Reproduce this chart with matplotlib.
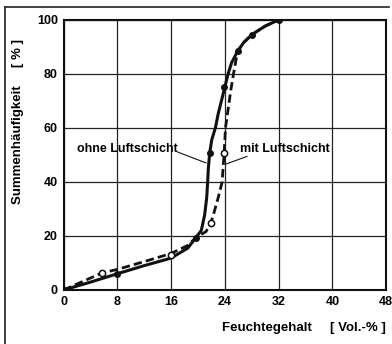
import matplotlib
matplotlib.use("Agg")
import matplotlib.pyplot as plt
from matplotlib.lines import Line2D

# Kurvenverlauf
ohne_x = [0, 4, 8, 12, 16, 18.5, 19.7, 20.5, 21.0, 21.3, 21.45, 21.55, 21.75, 22.05, 22.6, 23.0,
          23.5, 24.0, 24.5, 25.0, 25.9, 26.8, 28.0, 30.0, 32.1]
ohne_y = [0, 2.9, 6, 9, 11.8, 15.5, 19.4, 22, 27.8, 34, 40, 45, 50.6, 55.5, 60, 65,
          70, 75, 80, 84, 88.3, 91.5, 94.4, 97.6, 100]
mit_x = [0, 3, 5.7, 8, 12, 16, 18.5, 19.7, 21.2, 21.9, 22.3, 23.0, 23.6, 23.9, 24.1, 24.5,
         24.9, 25.3, 25.9, 26.8, 28.0, 30.0, 32.1]
mit_y = [0, 3.3, 6.3, 7.6, 10.5, 13.5, 16.5, 19.4, 21.6, 24.7, 27.8, 34, 40, 50.6, 60, 67,
         74, 80, 88.3, 91.5, 94.4, 97.6, 100]

# Messpunkte
ohne_px = [0, 8, 19.7, 21.75, 23.95, 25.9, 28.0, 32.1]
ohne_py = [0, 6, 19.4, 50.6, 75, 88.3, 94.4, 100]
mit_px = [5.7, 16, 21.9, 23.9]
mit_py = [6.3, 13, 24.7, 50.6]

x_ticks = [0, 8, 16, 24, 32, 40, 48]
y_ticks = [0, 20, 40, 60, 80, 100]

plt.rcParams['font.family'] = ['Liberation Sans', 'DejaVu Sans']
plt.rcParams['font.weight'] = 'bold'

fig = plt.figure(figsize=(3.92, 3.44), dpi=100)
ax = fig.add_axes([0.162, 0.157, 0.823, 0.786])

ax.set_xlim(0, 48)
ax.set_ylim(0, 100)
ax.set_xticks(x_ticks)
ax.set_yticks(y_ticks)
ax.tick_params(length=0, labelsize=9, pad=4)
ax.grid(True, color='#222222', linewidth=0.9)
for s in ax.spines.values():
    s.set_linewidth(1.5)
    s.set_color('#111111')

ax.plot(ohne_x, ohne_y, color='#111111', linewidth=2.2, solid_capstyle='round',
        solid_joinstyle='round')
ax.plot(mit_x, mit_y, color='#111111', linewidth=2.0, linestyle=(0, (3, 1.5)))
ax.plot(ohne_px, ohne_py, 'o', color='#111111', markersize=4, zorder=4)
ax.plot(mit_px, mit_py, 'o', markerfacecolor='white', markeredgecolor='#111111',
        markersize=4.5, markeredgewidth=1.1, zorder=4)

# Beschriftung der Kurven
ax.text(9.5, 52, 'ohne Luftschicht', fontsize=9, ha='center', va='center')
ax.plot([17.0, 21.2], [51, 47], color='#111111', linewidth=0.8)
ax.text(33.0, 52, 'mit Luftschicht', fontsize=9, ha='center', va='center')
ax.plot([27.3, 24.2], [49.4, 46.6], color='#111111', linewidth=0.8)

fig.text(0.985, 0.047, 'Feuchtegehalt     [ Vol.-% ]', fontsize=9.5, ha='right', va='center')
fig.text(0.045, 0.648, 'Summenhäufigkeit     [ % ]', fontsize=9.5, rotation=90,
         ha='center', va='center')

# Rahmen
fig.add_artist(Line2D([5/392, 389/392], [1 - 7/344, 1 - 7/344], color='#222222', linewidth=1.2))
fig.add_artist(Line2D([5/392, 5/392], [1 - 7/344, 0], color='#222222', linewidth=1.2))

fig.savefig('out.png', dpi=100)
